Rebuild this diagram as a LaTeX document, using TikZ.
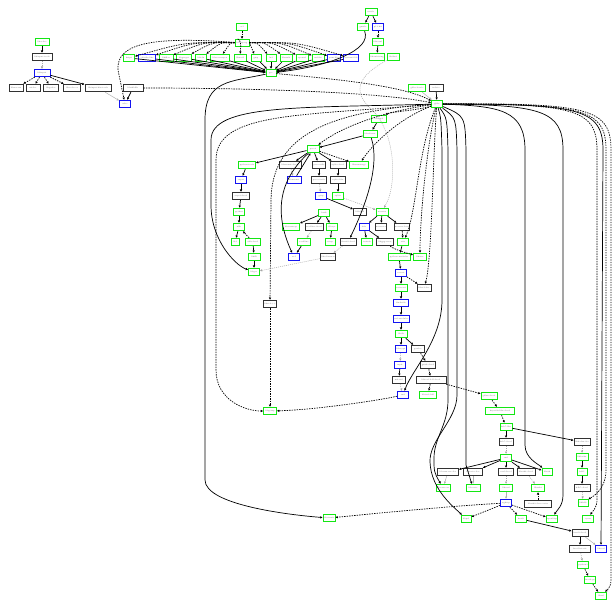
\documentclass[tikz,border=0pt]{standalone}
\usetikzlibrary{arrows.meta}
\definecolor{gcol}{RGB}{20,230,20}
\definecolor{bcol}{RGB}{20,20,240}
\definecolor{kcol}{RGB}{50,50,50}
\tikzset{
 nd/.style={draw, fill=white, inner xsep=0.7pt, inner ysep=0.4pt, minimum height=7.5pt, line width=0.9pt, font=\fontsize{1.9}{2.1}\selectfont, text=black!60},
 gn/.style={nd, draw=gcol},
 bn/.style={nd, draw=bcol},
 kn/.style={nd, draw=kcol, line width=0.9pt},
 e/.style={-{Triangle[length=2.3pt,width=2.1pt]}, line width=0.7pt},
 de/.style={e, dash pattern=on 1.4pt off 1.1pt},
 ge/.style={e, draw=black!35, line width=0.5pt, dash pattern=on 1pt off 1pt},
 gs/.style={e, draw=black!30, line width=0.5pt},
}
\newcommand\mknode[5]{\node[#1,minimum width=#2pt] (#3) at #4 {#5};}
\begin{document}
\begin{tikzpicture}[x=1pt,y=-1pt]
\useasboundingbox (0,0) rectangle (613,601);
% ---------- top-left cluster
\mknode{gn}{14}{A1}{(42,42)}{libevdev}
\mknode{kn}{20}{A2}{(42,57)}{libinput-tools}
\mknode{bn}{16}{A3}{(42,73)}{libinput}
\mknode{kn}{14}{A4}{(16,88)}{libwacom}
\mknode{kn}{14}{A5}{(33,88)}{mtdev}
\mknode{kn}{15}{A6}{(51,88)}{libgudev}
\mknode{kn}{17}{A7}{(72,88)}{libevdev-x}
\mknode{kn}{26}{A8}{(98,88)}{libinput-bin-tools}
\mknode{kn}{20}{B1}{(133,88)}{libxkbfile}
\mknode{bn}{11}{B2}{(125,104)}{udev}
% ---------- top row
\mknode{gn}{11}{T0}{(242,27)}{acl}
\mknode{gn}{14}{T1}{(242,43)}{libcap-ng}
\mknode{gn}{11}{R1}{(129,58)}{bzip2}
\mknode{bn}{17}{R2}{(147,58)}{elfutils-libs}
\mknode{gn}{14}{R3}{(166,58)}{libffi-x}
\mknode{gn}{15}{R4}{(184,58)}{libgcrypt}
\mknode{gn}{11}{R5}{(201,58)}{libidn}
\mknode{gn}{19}{R6}{(220,58)}{libseccomp-x}
\mknode{gn}{12}{R7}{(240,58)}{libuuid}
\mknode{gn}{10}{R8}{(256,58)}{gmp}
\mknode{gn}{10}{R9}{(271,58)}{lz4}
\mknode{gn}{12}{R10}{(286,58)}{libxml2}
\mknode{gn}{12}{R11}{(302,58)}{openssl}
\mknode{gn}{12}{R12}{(318,58)}{xz-libs}
\mknode{bn}{13}{R13}{(334,58)}{pam-libs}
\mknode{bn}{15}{R14}{(351,58)}{systemd-lib}
\mknode{gn}{10}{H}{(271,73)}{gcc}
% ---------- top right
\mknode{gn}{12}{U1}{(371,12)}{nettle}
\mknode{gn}{11}{U2}{(363,27)}{gnutls}
\mknode{bn}{11}{U3}{(378,27)}{p11-kit}
\mknode{gn}{11}{U4}{(378,42)}{libtasn1}
\mknode{gn}{13}{U5}{(377,57)}{libunistring}
\mknode{gn}{12}{U6}{(393,57)}{libidn2}
\mknode{gn}{17}{V1}{(417,88)}{glibc-locale}
\mknode{kn}{14}{V2}{(436,88)}{tzdata}
\mknode{gn}{11}{G}{(437,104)}{glibc}
% ---------- middle
\mknode{gn}{15}{M1}{(379,119)}{libsepol}
\mknode{gn}{14}{M2}{(370,134)}{libselinux}
\mknode{gn}{12}{M3}{(313,149)}{pcre2}
\mknode{gn}{17}{M4}{(247,165)}{python-tools}
\mknode{kn}{22}{M5}{(290,165)}{libmount-devel}
\mknode{kn}{12}{M6}{(319,165)}{pcre-utils}
\mknode{kn}{16}{M7}{(338,165)}{sqlite-devel}
\mknode{gn}{19}{M8}{(359,165)}{libsemanage}
\mknode{bn}{11}{M9}{(241,180)}{expat}
\mknode{bn}{14}{M10}{(294,180)}{libmount}
\mknode{kn}{15}{M11}{(319,180)}{pcre-static}
\mknode{kn}{15}{M12}{(338,180)}{sqlite-libs}
\mknode{kn}{17}{M13}{(241,196)}{expat-devel}
\mknode{bn}{11}{M14}{(321,196)}{grep}
\mknode{gn}{11}{M15}{(338,196)}{sqlite}
\mknode{gn}{11}{M16}{(239,212)}{python}
\mknode{kn}{13}{M17}{(360,212)}{libblkid}
\mknode{gn}{12}{M18}{(382,212)}{ncurses}
\mknode{gn}{11}{M19}{(324,213)}{bash}
\mknode{gn}{11}{M20}{(239,227)}{zlib}
\mknode{gn}{17}{M21}{(291,227)}{libtermcap}
\mknode{kn}{18}{M22}{(314,227)}{readline-devel}
\mknode{gn}{11}{M23}{(332,227)}{filesys}
\mknode{bn}{10}{M24}{(364,227)}{info}
\mknode{kn}{11}{M25}{(381,227)}{ncurses-c}
\mknode{kn}{15}{M26}{(402,227)}{ncurses-base}
\mknode{gn}{8}{M27}{(235,242)}{ldd}
\mknode{gn}{15}{M28}{(253,242)}{zlib-devel}
\mknode{gn}{13}{M29}{(304,242)}{readline}
\mknode{gn}{10}{M30}{(330,242)}{setup}
\mknode{kn}{16}{M31}{(348,242)}{libuuid-devel}
\mknode{gn}{11}{M32}{(367,242)}{texinfo}
\mknode{kn}{17}{M33}{(385,242)}{libgpg-error}
\mknode{gn}{11}{M34}{(403,242)}{attr}
\mknode{gn}{12}{M35}{(254,257)}{libffi}
\mknode{bn}{11}{M36}{(294,257)}{sed}
\mknode{kn}{13}{M37}{(328,257)}{libselinux-u}
\mknode{gn}{22}{M38}{(399,257)}{python-modules}
\mknode{gn}{13}{M39}{(420,257)}{libattr}
\mknode{gn}{11}{M40}{(254,272)}{libgcc}
\mknode{bn}{11}{M41}{(401,273)}{coreut}
\mknode{gn}{12}{M42}{(401,288)}{autoconf}
\mknode{kn}{14}{M43}{(424,288)}{libacl-dev}
\mknode{kn}{13}{M44}{(270,304)}{libstdc++}
\mknode{bn}{15}{M45}{(401,303)}{findutils}
\mknode{bn}{16}{M46}{(401,319)}{perl-modules}
\mknode{gn}{12}{M47}{(401,334)}{libdb}
\mknode{bn}{11}{M48}{(401,349)}{libcrypt}
\mknode{kn}{13}{M49}{(418,349)}{gawk-c}
\mknode{bn}{11}{M50}{(400,365)}{mpfr}
\mknode{kn}{15}{M51}{(428,365)}{gawk-devel}
\mknode{kn}{13}{M52}{(399,380)}{m4-util}
\mknode{kn}{30}{M53}{(431,380)}{libtool-ltdl-devel}
\mknode{bn}{11}{M54}{(403,395)}{m4}
\mknode{gn}{17}{M55}{(428,395)}{libtool-ltdl}
\mknode{gn}{13}{M56}{(270,411)}{libgomp}
% ---------- lower right
\mknode{gn}{16}{L1}{(489,396)}{gdbm-devel}
\mknode{gn}{29}{L2}{(500,411)}{keyutils-libs-devel}
\mknode{gn}{12}{L3}{(506,427)}{krb5-libs}
\mknode{kn}{14}{L4}{(506,442)}{krb5-devel}
\mknode{gn}{11}{L5}{(506,458)}{curl}
\mknode{kn}{21}{L6}{(448,472)}{libcom-err-dev}
\mknode{kn}{19}{L7}{(473,472)}{libverto-dev}
\mknode{kn}{15}{L8}{(506,472)}{curl-devel}
\mknode{kn}{18}{L9}{(526,472)}{libssh2-devel}
\mknode{gn}{10}{L10}{(547,472)}{libssh}
\mknode{gn}{14}{L11}{(443,488)}{libcom-err}
\mknode{gn}{14}{L12}{(473,488)}{libverto}
\mknode{gn}{13}{L13}{(506,488)}{libcurl}
\mknode{gn}{13}{L14}{(538,488)}{libssh2}
\mknode{bn}{11}{L15}{(506,503)}{nghttp}
\mknode{kn}{27}{L16}{(538,504)}{libssh2-docs-extra}
\mknode{gn}{10}{L17}{(466,519)}{libpsl}
\mknode{gn}{11}{L18}{(521,519)}{brotli}
\mknode{gn}{11}{L19}{(552,519)}{openldap}
\mknode{gn}{11}{L20}{(588,519)}{cyrus}
\mknode{kn}{16}{L21}{(580,533)}{brotli-devel}
\mknode{kn}{21}{L22}{(580,549)}{brotli-static}
\mknode{bn}{11}{L23}{(601,549)}{libsasl}
\mknode{gn}{11}{L24}{(583,565)}{python3}
\mknode{gn}{11}{L25}{(590,580)}{brotli-py}
\mknode{gn}{11}{L26}{(601,596)}{libssl}
\mknode{kn}{16}{P1}{(582,442)}{libkadm-dev}
\mknode{gn}{12}{P2}{(582,457)}{libkadm}
\mknode{gn}{10}{P3}{(582,472)}{kdb5}
\mknode{kn}{16}{P4}{(582,488)}{kdb5-devel}
\mknode{gn}{10}{P5}{(583,503)}{libkdb}
\mknode{gn}{12}{BB}{(329,518)}{libatomic}

% ================= edges
% top-left
\draw[e] (A1)--(A2);
\draw[ge] (A2)--(A3);
\foreach \n in {A4,A5,A6,A7} \draw[de] (A3)--(\n);
\draw[e] (A3)--(A8);
\draw[e] (B1)--(B2);
\draw[gs] (A8)--(B2);
\draw[de] (T1) .. controls (150,36) and (116,44) .. (118,70) -- (B2);
\draw[de] (B1) .. controls (250,88) and (380,92) .. (G);
% top row
\draw[de] (T0)--(T1);
\foreach \n/\x in {R1/129,R2/147,R3/166,R4/184,R5/201,R6/220,R7/240,R8/256,R9/271,R10/286,R11/302,R12/318,R13/334,R14/351}
  \draw[de] (T1) .. controls ({(242+\x)/2},42) .. (\n);
\foreach \n in {R1,R2,R3,R4,R5,R6,R7,R8,R9,R10,R11,R12,R13,R14}
  \draw[e] (\n)--(H);
\draw[e] (U1)--(U2);
\draw[e] (U1)--(U3);
\draw[de] (U3)--(U4);
\draw[e] (U4)--(U5);
\draw[e] (U2) .. controls (372,50) and (330,66) .. (H);
\draw[ge,-] (U6) .. controls (360,75) and (350,90) .. (372,110) .. controls (398,135) and (396,190) .. (385,206);
\draw[ge] (385,206) -- (M18);
\draw[gs] (V1)--(G);
\draw[e] (V2)--(G);
\draw[de] (H) .. controls (320,78) and (400,84) .. (G);
% glibc fan, left side
\draw[de] (G) .. controls (420,110) and (390,112) .. (M1);
\draw[de] (G) .. controls (380,112) and (340,128) .. (M3);
\draw[de] (G) .. controls (395,120) and (370,148) .. (M8);
\draw[de] (G) .. controls (320,112) and (272,140) .. (271,200) -- (M44);
\draw[de] (G) .. controls (300,116) and (216,112) .. (216,160) -- (216,370) .. controls (216,400) and (245,411) .. (M56);
\draw[e] (G) .. controls (300,108) and (211,104) .. (211,140) -- (211,205) .. controls (211,240) and (235,265) .. (M40);
\draw[e] (H) .. controls (230,82) and (205,80) .. (205,120) -- (205,480) .. controls (205,505) and (290,515) .. (BB);
\draw[de] (G) .. controls (418,150) and (416,215) .. (M34);
\draw[de] (G) .. controls (426,150) and (420,220) .. (M39);
\draw[de] (G) .. controls (433,150) and (432,260) .. (M43);
\draw[e] (G) .. controls (441,118) .. (442,150) -- (442,300) .. controls (442,340) and (412,370) .. (M54);
\draw[e] (G) .. controls (447,118) .. (448,150) -- (448,400) .. controls (448,425) and (434,438) .. (434,458) .. controls (434,472) .. (L11);
\draw[e] (G) .. controls (456,118) .. (457,150) -- (457,395) .. controls (457,420) and (429,440) .. (430,462) .. controls (431,490) and (455,508) .. (L17);
\draw[e] (G) .. controls (465,116) .. (466,150) -- (466,465) -- (L12);
% glibc fan, right side
\draw[e] (G) .. controls (500,106) and (525,110) .. (525,150) -- (525,445) .. controls (525,458) and (538,464) .. (L10);
\draw[e] (G) .. controls (540,105) and (563,110) .. (563,150) -- (563,495) .. controls (563,506) and (557,510) .. (L19);
\draw[e] (G) .. controls (578,104) and (603,108) .. (603,150) -- (L23);
\draw[de] (G) .. controls (572,104) and (597,108) .. (597,150) -- (597,500) .. controls (597,508) and (592,512) .. (L20);
\draw[de] (G) .. controls (582,104) and (606,108) .. (606,150) -- (606,470) .. controls (606,490) and (592,497) .. (P5);
\draw[de] (G) .. controls (588,103) and (611,108) .. (611,150) -- (611,580) .. controls (611,588) and (606,591) .. (L26);
% middle tree
\draw[e] (M1)--(M2);
\draw[e] (M2)--(M3);
\draw[e] (M3)--(M4);
\foreach \n in {M5,M6,M7} \draw[e] (M3)--(\n);
\draw[de] (M3)--(M8);
\draw[e] (M4)--(M9);
\draw[e] (M9)--(M13);
\draw[e] (M13)--(M16);
\draw[e] (M16)--(M20);
\draw[e] (M20)--(M27);
\draw[de] (M28)--(M20);
\draw[e] (M28)--(M35);
\draw[e] (M35)--(M40);
\draw[ge] (M5)--(M10);
\draw[e] (M10)--(M3);
\draw[e] (M6)--(M11);
\draw[ge] (M11)--(M14);
\draw[e] (M7)--(M12);
\draw[e] (M12)--(M15);
\draw[e] (M14)--(M17);
\draw[ge] (M15)--(M18);
\draw[e] (M2) .. controls (380,165) and (366,205) .. (M31);
\draw[e] (M3) .. controls (290,170) and (268,200) .. (M36);
\foreach \n in {M21,M22,M23} \draw[e] (M19)--(\n);
\draw[ge] (M22)--(M29);
\draw[e] (M29)--(M36);
\draw[e] (M23)--(M30);
\foreach \n in {M24,M25,M26} \draw[e] (M18)--(\n);
\draw[e] (M24)--(M32);
\draw[e] (M24)--(M33);
\draw[de] (M26)--(M34);
\draw[ge] (M31)--(M37);
\draw[ge] (M37)--(M40);
\draw[e] (M34)--(M38);
\draw[de] (M33) .. controls (395,250) and (410,254) .. (M39);
\draw[e] (M38)--(M41);
\draw[de] (M41)--(M43);
\draw[e] (M41)--(M42);
\draw[e] (M42)--(M45);
\draw[e] (M45)--(M46);
\draw[e] (M46)--(M47);
\draw[e] (M47)--(M48);
\draw[e] (M47)--(M49);
\draw[ge] (M48)--(M50);
\draw[e] (M50)--(M52);
\draw[ge] (M52)--(M54);
\draw[de] (M49)--(M51);
\draw[de] (M51)--(M53);
\draw[de] (M53)--(M55);
\draw[de] (M44)--(M56);
\draw[de] (M54) .. controls (370,402) and (310,410) .. (M56);
\draw[de] (M53)--(L1);
% lower right
\draw[de] (L1)--(L2);
\draw[de] (L2)--(L3);
\draw[e] (L3)--(L4);
\draw[e] (L3)--(P1);
\draw[ge] (L4)--(L5);
\foreach \n in {L6,L7,L8,L9,L10} \draw[e] (L5)--(\n);
\draw[gs] (L6)--(L11);
\draw[gs] (L7)--(L12);
\draw[ge] (L8)--(L13);
\draw[ge] (L9)--(L14);
\draw[de] (L16)--(L14);
\draw[gs] (L13)--(L15);
\draw[ge] (P1)--(P2);
\draw[e] (P2)--(P3);
\draw[e] (P3)--(P4);
\draw[ge] (P4)--(P5);
\draw[de] (L15)--(L17);
\draw[de] (L15)--(L18);
\draw[de] (L15)--(L19);
\draw[de] (L15) .. controls (450,506) and (370,514) .. (BB);
\draw[e] (L18)--(L21);
\draw[e] (L21)--(L22);
\draw[gs] (L21)--(L23);
\draw[ge] (L22)--(L24);
\draw[de] (L24)--(L25);
\draw[de] (L25)--(L26);
\end{tikzpicture}
\end{document}
